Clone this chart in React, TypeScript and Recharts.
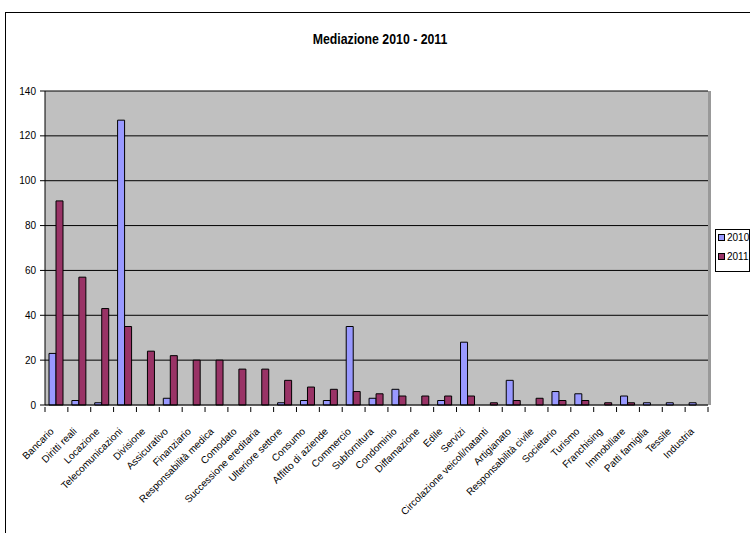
import { BarChart, Bar, XAxis, YAxis, CartesianGrid } from 'recharts'

const CATEGORIES = [
  'Bancario',
  'Diritti reali',
  'Locazione',
  'Telecomunicazioni',
  'Divisione',
  'Assicurativo',
  'Finanziario',
  'Responsabilità medica',
  'Comodato',
  'Successione ereditaria',
  'Ulteriore settore',
  'Consumo',
  'Affitto di aziende',
  'Commercio',
  'Subfornitura',
  'Condominio',
  'Diffamazione',
  'Edile',
  'Servizi',
  'Circolazione veicoli/natanti',
  'Artigianato',
  'Responsabilità civile',
  'Societario',
  'Turismo',
  'Franchising',
  'Immobiliare',
  'Patti famiglia',
  'Tessile',
  'Industria',
]

const VALUES_2010 = [23, 2, 1, 127, 0, 3, 0, 0, 0, 0, 1, 2, 2, 35, 3, 7, 0, 2, 28, 0, 11, 0, 6, 5, 0, 4, 1, 1, 1]
const VALUES_2011 = [91, 57, 43, 35, 24, 22, 20, 20, 16, 16, 11, 8, 7, 6, 5, 4, 4, 4, 4, 1, 2, 3, 2, 2, 1, 1, 0, 0, 0]

const Y_TICKS = [0, 20, 40, 60, 80, 100, 120, 140]

const SERIES = ['2010', '2011']

const DATA = CATEGORIES.map((name, i) => ({
  name,
  y2010: VALUES_2010[i],
  y2011: VALUES_2011[i],
}))

const FONT = '"Liberation Sans", Arial, sans-serif'
const BLUE = '#9999FF'
const MAROON = '#993366'

const CategoryTick = ({ x, y, payload, index }: any) => {
  const half = payload?.offset || 11.43
  const last = index === CATEGORIES.length - 1
  const ax = x - 2
  const ay = y + 25
  return (
    <g>
      <line x1={x - half} x2={x - half} y1={y} y2={y + 5} stroke="#000" />
      {last && <line x1={x + half} x2={x + half} y1={y} y2={y + 5} stroke="#000" />}
      <text
        x={ax}
        y={ay}
        textAnchor="end"
        transform={`rotate(-45, ${ax}, ${ay})`}
        fontSize={10}
        fontFamily={FONT}
        fill="#000"
      >
        {payload.value}
      </text>
    </g>
  )
}

const GridLine = (props: any) => {
  const { x1, x2, y1, y2, index } = props
  return (
    <line
      key={`h-${index}`}
      x1={x1}
      x2={x2}
      y1={y1}
      y2={y2}
      stroke={index === 0 ? '#808080' : '#000'}
      strokeWidth={1}
    />
  )
}

export default function App() {
  return (
    <div
      style={{
        position: 'absolute',
        left: 0,
        top: 0,
        width: 750,
        height: 533,
        overflow: 'hidden',
        background: '#fff',
        fontFamily: FONT,
      }}
    >
      <div
        style={{
          position: 'absolute',
          left: 5,
          top: 12,
          width: 900,
          height: 700,
          border: '1px solid #000',
        }}
      />
      <div
        style={{
          position: 'absolute',
          left: 0,
          top: 30,
          width: 760,
          textAlign: 'center',
          fontSize: 15,
          fontWeight: 'bold',
          transform: 'scaleX(0.82)',
        }}
      >
        Mediazione 2010 - 2011
      </div>
      <div style={{ position: 'absolute', left: 0, top: 0 }}>
        <BarChart
          width={750}
          height={533}
          data={DATA}
          margin={{ top: 91, right: 42, left: 5, bottom: 0 }}
          barGap={0}
          barSize={7}
        >
          <CartesianGrid vertical={false} fill="#C0C0C0" horizontal={GridLine} />
          <XAxis
            dataKey="name"
            interval={0}
            height={128}
            tickSize={0}
            tickLine={false}
            axisLine={{ stroke: '#000' }}
            tick={<CategoryTick />}
          />
          <YAxis
            width={40}
            domain={[0, 140]}
            ticks={Y_TICKS}
            interval={0}
            tickSize={5}
            tickMargin={4}
            axisLine={{ stroke: '#000' }}
            tickLine={{ stroke: '#000' }}
            tick={{ fontSize: 10, fill: '#000', fontFamily: FONT }}
          />
          <Bar dataKey="y2010" name={SERIES[0]} fill={BLUE} stroke="#000" strokeWidth={1} isAnimationActive={false} />
          <Bar dataKey="y2011" name={SERIES[1]} fill={MAROON} stroke="#000" strokeWidth={1} isAnimationActive={false} />
        </BarChart>
      </div>
      <div
        style={{
          position: 'absolute',
          left: 708,
          top: 91,
          width: 3,
          height: 314,
          background: '#999',
        }}
      />
      <div
        style={{
          position: 'absolute',
          left: 715,
          top: 229,
          width: 33,
          height: 41,
          border: '1px solid #000',
          background: '#fff',
          fontSize: 10,
          whiteSpace: 'nowrap',
        }}
      >
        {SERIES.map((s, i) => (
          <div key={s} style={{ position: 'absolute', left: 2, top: 2 + i * 19, display: 'flex', alignItems: 'center', gap: 2 }}>
            <span
              style={{
                display: 'inline-block',
                width: 5,
                height: 5,
                border: '1px solid #000',
                background: i === 0 ? BLUE : MAROON,
              }}
            />
            <span>{s}</span>
          </div>
        ))}
      </div>
    </div>
  )
}
